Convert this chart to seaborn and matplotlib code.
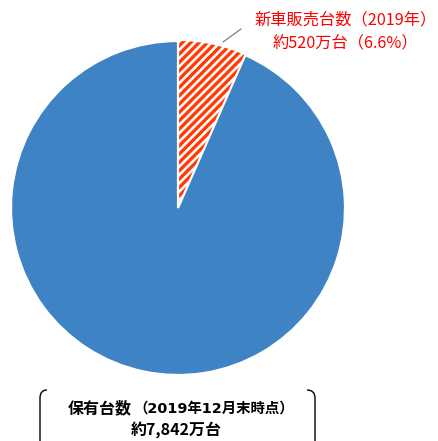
import matplotlib
matplotlib.use("Agg")
import matplotlib.pyplot as plt
from matplotlib.path import Path
from matplotlib.patches import PathPatch
import seaborn as sns

# Data
categories = ["新車販売台数", "保有台数（その他）"]
shares = [6.6, 93.4]
new_sales_label = ["新車販売台数（2019年）", "約520万台（6.6%）"]
stock_title = "保有台数"
stock_note = "（2019年12月末時点）"
stock_value = "約7,842万台"

sns.set_theme(style="white")
plt.rcParams["font.family"] = ["Noto Sans CJK JP", "DejaVu Sans"]
plt.rcParams["hatch.linewidth"] = 2.4

W, H = 438, 441
fig = plt.figure(figsize=(W / 100, H / 100), dpi=100)
fig.patch.set_facecolor("white")

# pie placed so that its centre sits at (178, 208) px with a 167 px radius
cx, cy, r = 178, 208, 167
ax = fig.add_axes([(cx - r) / W, (H - cy - r) / H, 2 * r / W, 2 * r / H])
ax.set_aspect("equal")
ax.axis("off")

blue = "#3E83C4"
stripe = "#FF3A06"

wedges, _ = ax.pie(
    shares,
    startangle=90,
    counterclock=False,
    radius=1,
    colors=["white", blue],
    wedgeprops=dict(edgecolor="white", linewidth=1.6),
)
ax.set_xlim(-1, 1)
ax.set_ylim(-1, 1)
wedges[0].set_edgecolor(stripe)
wedges[0].set_linewidth(0)
wedges[0].set_hatch("////")
wedges[0].set_zorder(1)
wedges[1].set_zorder(2)


def px(x, y):
    """pixel position -> data coordinates of the pie axes"""
    return (x - cx) / r, (cy - y) / r


# leader line and label for new-car sales
(x0, y0), (x1, y1) = px(223, 42), px(241, 29)
ax.plot([x0, x1], [y0, y1], color="#7f7f7f", lw=0.9, clip_on=False)

fig.text(346 / W, 1 - 20 / H, new_sales_label[0], color="#FF0000",
         fontsize=11.7, ha="center", va="center")
fig.text(345 / W, 1 - 43 / H, new_sales_label[1], color="#FF0000",
         fontsize=11.7, ha="center", va="center")

# bracket around the stock caption
def fig_xy(x, y):
    return x / W, 1 - y / H

left = Path([fig_xy(47, 390), fig_xy(40, 390), fig_xy(40, 398), fig_xy(40, 446)],
            [Path.MOVETO, Path.CURVE3, Path.CURVE3, Path.LINETO])
right = Path([fig_xy(307, 390), fig_xy(315, 390), fig_xy(315, 398), fig_xy(315, 446)],
             [Path.MOVETO, Path.CURVE3, Path.CURVE3, Path.LINETO])
for p in (left, right):
    fig.add_artist(PathPatch(p, transform=fig.transFigure, facecolor="none",
                             edgecolor="black", lw=1.0))

t1 = fig.text(68 / W, 1 - 408 / H, stock_title, fontsize=11.5,
              fontweight="bold", ha="left", va="center", color="black")
fig.canvas.draw()
bb = t1.get_window_extent()
fig.text((bb.x1 + 1) / W, 1 - 408.5 / H, stock_note, fontsize=10.4,
         fontweight="bold", ha="left", va="center", color="black",
         family=["DejaVu Sans", "Noto Sans CJK JP"])
fig.text(176 / W, 1 - 430 / H, stock_value, fontsize=11.5,
         fontweight="bold", ha="center", va="center", color="black")

fig.savefig("out.png", dpi=100, facecolor="white")
